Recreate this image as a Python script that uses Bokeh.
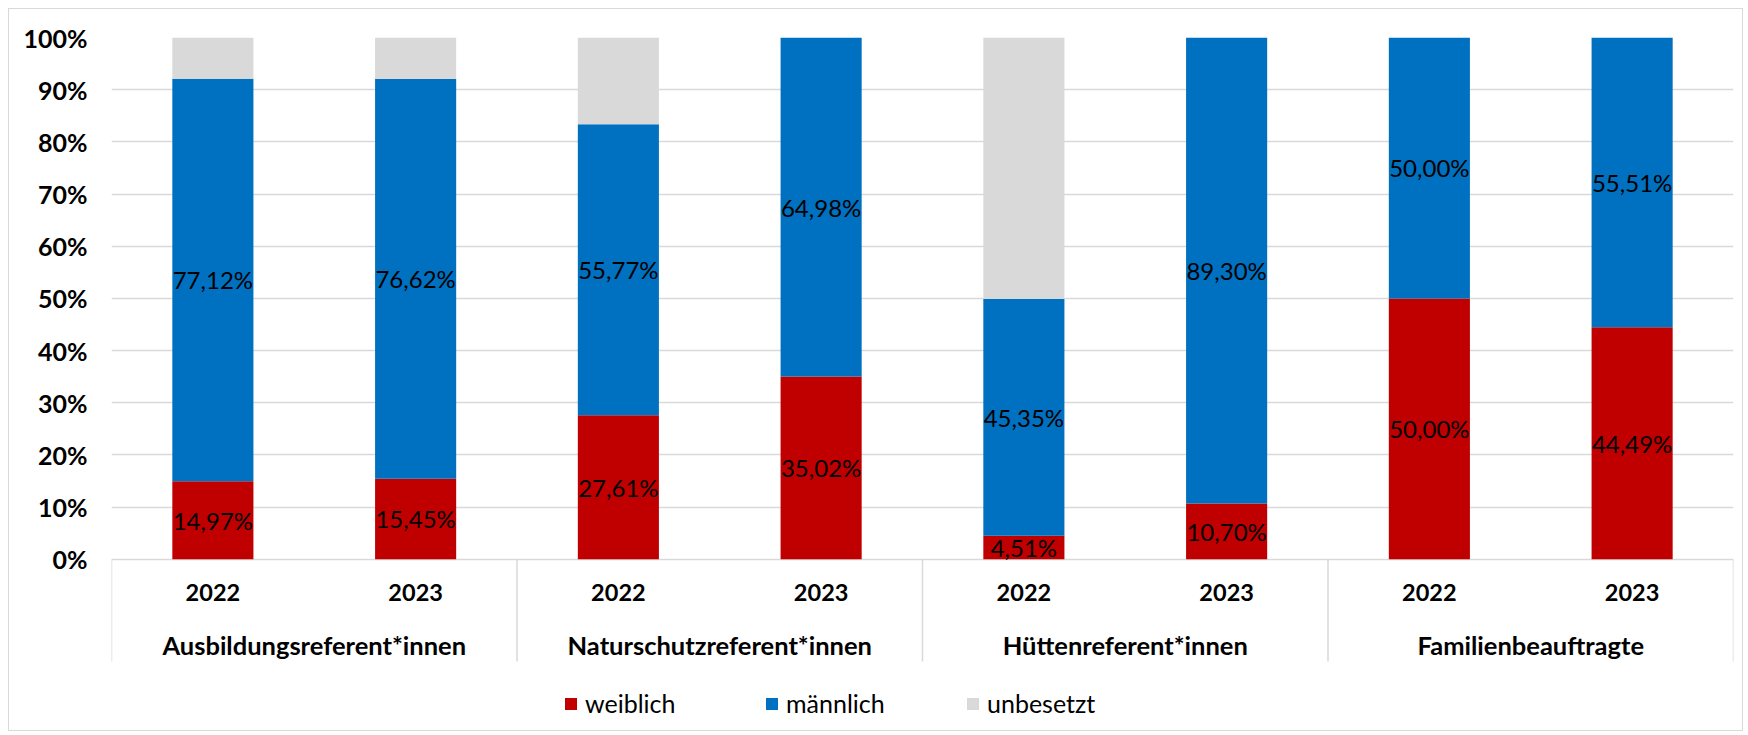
from bokeh.plotting import figure
from bokeh.models import (FactorRange, ColumnDataSource, Range1d, FixedTicker,
                          Legend, LegendItem, PrintfTickFormatter)
from bokeh.core.properties import value
from bokeh.embed import file_html
from bokeh.resources import INLINE

groups = ["Ausbildungsreferent*innen", "Naturschutzreferent*innen",
          "Hüttenreferent*innen", "Familienbeauftragte"]
years = ["2022", "2023"]
weiblich = [14.97, 15.45, 27.61, 35.02, 4.51, 10.70, 50.00, 44.49]
maennlich = [77.12, 76.62, 55.77, 64.98, 45.35, 89.30, 50.00, 55.51]
unbesetzt = [7.91, 7.93, 16.62, 0.0, 50.14, 0.0, 0.0, 0.0]
series_names = ["weiblich", "männlich", "unbesetzt"]
colors = ["#C00000", "#0070C0", "#D9D9D9"]
y_ticks = [0, 10, 20, 30, 40, 50, 60, 70, 80, 90, 100]

FONT = "Lato"
GREY = "#D9D9D9"
# layout of the category area below the 0% line (in y data units)
Y_MIN = -33.2
Y_YEAR = -6.4
Y_GROUP = -16.4
Y_SEP = -19.6

factors = [(g, y) for g in groups for y in years]

src = ColumnDataSource(dict(x=factors, w=weiblich, m=maennlich, u=unbesetzt))

p = figure(x_range=FactorRange(*factors, group_padding=0, factor_padding=0, range_padding=0),
           y_range=Range1d(Y_MIN, 100), width=1735, height=723,
           output_backend="svg", toolbar_location=None,
           min_border_left=102, min_border_right=11, min_border_top=28, min_border_bottom=0)
p.styles = {"border": f"1px solid {GREY}", "margin-left": "8px", "margin-top": "8px"}
p.outline_line_color = None

rs = p.vbar_stack(["w", "m", "u"], x="x", width=0.4, color=colors, source=src, line_color=None)

# data labels (centered in segments) for weiblich and männlich
lx, ly, lt = [], [], []
for i, f in enumerate(factors):
    bottom = 0.0
    for v in (weiblich[i], maennlich[i]):
        if v > 0:
            lx.append(f)
            ly.append(bottom + v / 2)
            lt.append(f"{v:.2f}".replace(".", ",") + "%")
        bottom += v
lsrc = ColumnDataSource(dict(x=lx, y=ly, t=lt))
p.text(x="x", y="y", text="t", source=lsrc, text_align="center", text_baseline="middle",
       text_font=value(FONT), text_font_size="24px", text_color="black")

# y axis
p.yaxis.ticker = FixedTicker(ticks=y_ticks)
p.yaxis.formatter = PrintfTickFormatter(format="%d%%")
p.yaxis.axis_line_color = None
p.yaxis.major_tick_line_color = None
p.yaxis.minor_tick_line_color = None
p.yaxis.major_label_standoff = 18
p.yaxis.major_label_text_font = FONT
p.yaxis.major_label_text_font_size = "25px"
p.yaxis.major_label_text_font_style = "bold"
p.yaxis.major_label_text_color = "black"

p.ygrid.grid_line_color = GREY
p.ygrid.grid_line_width = 1.5
p.xgrid.grid_line_color = None
p.xaxis.visible = False

# category axis drawn inside the frame (Excel style multi-level axis)
sep_x = [(g, years[0], -0.5) for g in groups] + [(groups[-1], years[-1], 0.5)]
ssrc = ColumnDataSource(dict(x=sep_x, y0=[0] * len(sep_x), y1=[Y_SEP] * len(sep_x)))
p.segment(x0="x", y0="y0", x1="x", y1="y1", source=ssrc, line_color=GREY, line_width=1.5)

ysrc = ColumnDataSource(dict(x=factors, y=[Y_YEAR] * len(factors), t=[f[1] for f in factors]))
p.text(x="x", y="y", text="t", source=ysrc, text_align="center", text_baseline="middle",
       text_font=value(FONT), text_font_size="23.5px", text_font_style="bold", text_color="black")

gsrc = ColumnDataSource(dict(x=groups, y=[Y_GROUP] * len(groups), t=groups))
p.text(x="x", y="y", text="t", source=gsrc, text_align="center", text_baseline="middle",
       text_font=value(FONT), text_font_size="25.5px", text_font_style="bold", text_color="black")

legend = Legend(items=[LegendItem(label=n, renderers=[r]) for n, r in zip(series_names, rs)],
                orientation="horizontal", location=(452, 14),
                label_text_font=FONT, label_text_font_size="25px", label_text_color="black",
                glyph_width=15, glyph_height=15, label_standoff=7, label_width=173,
                spacing=6, border_line_color=None, background_fill_alpha=0,
                padding=4, margin=0)
p.add_layout(legend, "center")

open("out.html", "w").write(file_html(p, INLINE))
